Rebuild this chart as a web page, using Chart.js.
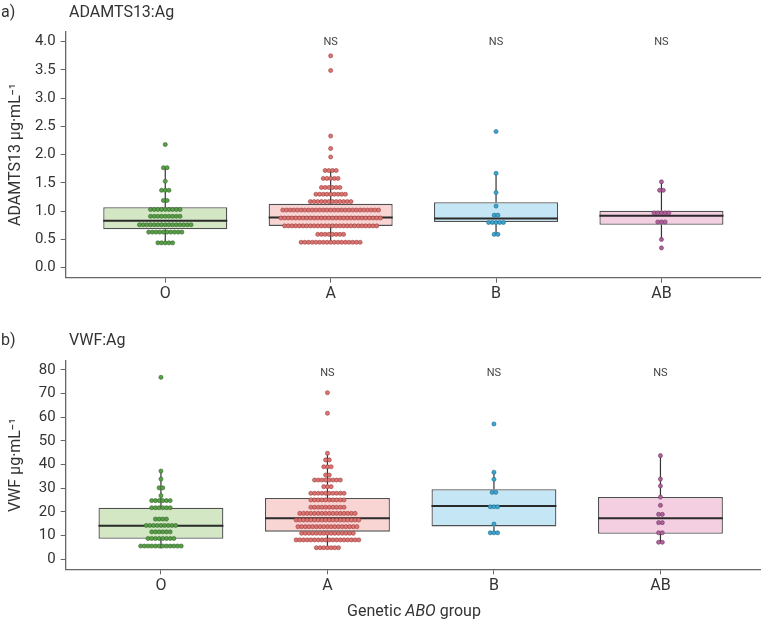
<!DOCTYPE html>
<html><head><meta charset="utf-8">
<script src="https://cdn.jsdelivr.net/npm/chart.js@4"></script>
<style>
html,body{margin:0;padding:0;background:#fff;}
body{width:763px;height:621px;position:relative;overflow:hidden;font-family:Roboto,sans-serif;color:#333;}
.cv{position:absolute;left:0;width:763px;}
.lbl{position:absolute;font-size:16px;line-height:16px;white-space:nowrap;color:#333;font-family:Roboto,sans-serif;}
</style></head><body>
<div class="cv" style="top:0;height:305px"><canvas id="ca"></canvas></div>
<div class="cv" style="top:305px;height:316px"><canvas id="cb"></canvas></div>
<div class="lbl" style="left:1px;top:4px">a)</div>
<div class="lbl" style="left:69px;top:4px">ADAMTS13:Ag</div>
<div class="lbl" style="left:1px;top:332px">b)</div>
<div class="lbl" style="left:69px;top:332px">VWF:Ag</div>
<div class="lbl" style="left:414px;top:603px;transform:translateX(-50%)">Genetic <i>ABO</i> group</div>
<script>
// ---------- shared ----------
const categories = ['O', 'A', 'B', 'AB'];
const nsLabels = ['', 'NS', 'NS', 'NS'];
const boxFill = ['#d4e7c4', '#f8d4d3', '#c5e6f5', '#f4cee1'];
const dotFill = ['#5b9f49', '#dc7472', '#3ca5cf', '#b0639a'];
const dotEdge = ['#2f6526', '#9a3d3b', '#1c6a8b', '#6e3460'];

// ---------- panel a: ADAMTS13:Ag (µg/mL) ----------
const adamtsTicks = [0, 0.5, 1, 1.5, 2, 2.5, 3, 3.5, 4];
const adamtsO_values  = [2.18, 1.77, 1.53, 1.37, 1.19, 1.03, 0.91, 0.76, 0.63, 0.44];
const adamtsO_counts  = [1, 2, 1, 3, 2, 9, 9, 15, 10, 5];
const adamtsA_values  = [3.75, 3.49, 2.33, 2.11, 1.96, 1.72, 1.58, 1.42, 1.30, 1.17, 1.02, 0.88, 0.74, 0.59, 0.45];
const adamtsA_counts  = [1, 1, 1, 1, 1, 4, 5, 6, 9, 12, 27, 28, 26, 8, 17];
const adamtsB_values  = [2.41, 1.67, 1.33, 1.09, 0.93, 0.80, 0.59];
const adamtsB_counts  = [1, 1, 1, 1, 2, 5, 2];
const adamtsAB_values = [1.52, 1.37, 0.97, 0.81, 0.50, 0.35];
const adamtsAB_counts = [1, 2, 5, 3, 1, 1];
const adamtsQ1          = [0.68, 0.74, 0.81, 0.76];
const adamtsMedian      = [0.83, 0.89, 0.87, 0.92];
const adamtsQ3          = [1.07, 1.13, 1.16, 1.01];
const adamtsWhiskerLow  = [0.43, 0.42, 0.59, 0.50];
const adamtsWhiskerHigh = [1.77, 1.70, 1.67, 1.52];

// ---------- panel b: VWF:Ag (µg/mL) ----------
const vwfTicks = [0, 10, 20, 30, 40, 50, 60, 70, 80];
const vwfO_values  = [76.9, 37.3, 33.9, 30.2, 26.9, 24.8, 21.8, 17.0, 14.3, 11.6, 8.8, 5.6];
const vwfO_counts  = [1, 1, 1, 2, 1, 6, 6, 4, 9, 6, 8, 12];
const vwfA_values  = [70.4, 61.7, 44.8, 42.0, 39.1, 35.6, 33.5, 30.7, 27.9, 25.1, 22.0, 19.4, 16.6, 13.8, 11.0, 8.2, 4.9];
const vwfA_counts  = [1, 1, 1, 2, 3, 2, 8, 3, 10, 10, 10, 16, 18, 17, 15, 18, 7];
const vwfB_values  = [57.2, 36.8, 33.8, 28.3, 22.2, 14.9, 11.2];
const vwfB_counts  = [1, 1, 1, 2, 3, 1, 3];
const vwfAB_values = [43.8, 33.9, 31.0, 26.3, 22.8, 19.0, 15.5, 11.2, 7.2];
const vwfAB_counts = [1, 1, 1, 1, 1, 2, 2, 2, 2];
const vwfQ1          = [8.7, 11.7, 13.9, 10.8];
const vwfMedian      = [14.2, 17.3, 22.5, 17.4];
const vwfQ3          = [21.8, 25.9, 29.6, 26.3];
const vwfWhiskerLow  = [4.6, 4.9, 11.0, 7.0];
const vwfWhiskerHigh = [37.3, 44.8, 36.8, 43.8];

// ---------- drawing helpers ----------
const nsPlugin = {
  id: 'ns',
  afterDatasetsDraw(chart, args, opts) {
    const xs = chart.scales.x, ctx = chart.ctx;
    ctx.save();
    ctx.font = '11px Roboto, sans-serif';
    ctx.fillStyle = '#444';
    ctx.textAlign = 'center';
    ctx.textBaseline = 'middle';
    opts.labels.forEach((t, i) => { if (t) ctx.fillText(t, xs.getPixelForValue(i), chart.chartArea.top + opts.offset); });
    ctx.restore();
  }
};

function makePanel(id, p) {
  const pxPerUnit = (763 - p.yAxisWidth) / (p.xMax - p.xMin);
  const step = p.dotSpacingPx / pxPerUnit;
  const datasets = [];
  // boxes
  datasets.push({
    type: 'bar', order: 4,
    data: categories.map((c, i) => ({x: i, y: [p.q1[i], p.q3[i]]})),
    backgroundColor: boxFill, borderColor: '#505050', borderWidth: 1.3, borderSkipped: false,
    barPercentage: 0.75, categoryPercentage: 1
  });
  categories.forEach((c, i) => {
    // whiskers
    [[p.q3[i], p.whiHigh[i]], [p.q1[i], p.whiLow[i]]].forEach(seg => datasets.push({
      type: 'line', order: 3, data: [{x: i, y: seg[0]}, {x: i, y: seg[1]}],
      borderColor: '#333', borderWidth: 1.2, pointRadius: 0, fill: false
    }));
    // median
    datasets.push({
      type: 'line', order: 2, data: [{x: i - 0.375, y: p.median[i]}, {x: i + 0.375, y: p.median[i]}],
      borderColor: '#2a2a2a', borderWidth: 2, pointRadius: 0, fill: false
    });
    // dots (centred stacks per bin)
    const pts = [];
    p.values[i].forEach((v, r) => {
      const n = p.counts[i][r];
      for (let k = 0; k < n; k++) pts.push({x: i + (k - (n - 1) / 2) * step, y: v});
    });
    datasets.push({
      type: 'scatter', order: 1, data: pts,
      backgroundColor: dotFill[i], borderColor: dotEdge[i], borderWidth: 0.6,
      pointRadius: 2.05, pointHoverRadius: 2.05
    });
  });

  new Chart(document.getElementById(id), {
    type: 'bar',
    data: {datasets},
    options: {
      responsive: true, maintainAspectRatio: false, animation: false,
      layout: {padding: {top: p.padTop, left: 0, right: 0, bottom: 0}},
      plugins: {legend: {display: false}, tooltip: {enabled: false}, ns: {labels: nsLabels, offset: p.nsOffset}},
      scales: {
        x: {
          type: 'linear', min: p.xMin, max: p.xMax, offset: false,
          afterBuildTicks: s => { s.ticks = categories.map((c, i) => ({value: i})); },
          afterFit: s => { s.height = p.xAxisHeight; },
          ticks: {callback: v => categories[v], color: '#333', font: {family: 'Roboto', size: 16}, padding: 2, maxRotation: 0, autoSkip: false},
          grid: {offset: false, drawOnChartArea: false, drawTicks: true, tickLength: 5, color: '#666', lineWidth: 1},
          border: {display: true, color: '#666', width: 1.3}
        },
        y: {
          type: 'linear', min: p.yMin, max: p.yMax,
          afterBuildTicks: s => { s.ticks = p.ticks.map(v => ({value: v})); },
          afterFit: s => { s.width = p.yAxisWidth; },
          ticks: {callback: v => p.tickFmt(v), color: '#333', font: {family: 'Roboto', size: 15}, padding: 5},
          grid: {drawOnChartArea: false, drawTicks: true, tickLength: 5, color: '#666', lineWidth: 1},
          border: {display: true, color: '#666', width: 1.3},
          title: {display: true, text: p.yTitle, color: '#333', font: {family: 'Roboto', size: 16}, padding: {top: 6.4, bottom: 0}}
        }
      }
    },
    plugins: [nsPlugin]
  });
}

makePanel('ca', {
  values: [adamtsO_values, adamtsA_values, adamtsB_values, adamtsAB_values],
  counts: [adamtsO_counts, adamtsA_counts, adamtsB_counts, adamtsAB_counts],
  q1: adamtsQ1, median: adamtsMedian, q3: adamtsQ3, whiLow: adamtsWhiskerLow, whiHigh: adamtsWhiskerHigh,
  ticks: adamtsTicks, tickFmt: v => v.toFixed(1),
  yMin: -0.177, yMax: 4.177, xMin: -0.602, xMax: 3.598,
  yAxisWidth: 65.7, padTop: 31.7, xAxisHeight: 27.3, nsOffset: 10.6, dotSpacingPx: 3.7,
  yTitle: 'ADAMTS13 μg·mL⁻¹'
});
makePanel('cb', {
  values: [vwfO_values, vwfA_values, vwfB_values, vwfAB_values],
  counts: [vwfO_counts, vwfA_counts, vwfB_counts, vwfAB_counts],
  q1: vwfQ1, median: vwfMedian, q3: vwfQ3, whiLow: vwfWhiskerLow, whiHigh: vwfWhiskerHigh,
  ticks: vwfTicks, tickFmt: v => String(v),
  yMin: -4.22, yMax: 83.8, xMin: -0.572, xMax: 3.6,
  yAxisWidth: 65.7, padTop: 56, xAxisHeight: 51.7, nsOffset: 12.3, dotSpacingPx: 3.7,
  yTitle: 'VWF μg·mL⁻¹'
});
</script>
</body></html>
